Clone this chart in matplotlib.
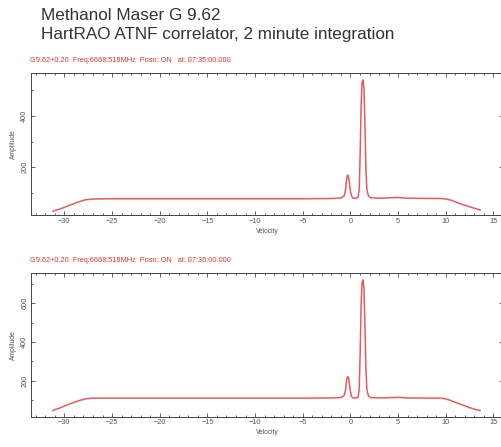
import matplotlib
matplotlib.use("Agg")
import matplotlib.pyplot as plt
from matplotlib.ticker import MultipleLocator

plt.rcParams['font.family'] = ['Liberation Sans', 'DejaVu Sans']

title_lines = ["Methanol Maser G 9.62", "HartRAO ATNF correlator, 2 minute integration"]
headers = ["G9.62+0.20  Freq:6668.518MHz  Posn: ON   at: 07:35:00.000",
           "G9.62+0.20  Freq:6668.518MHz  Posn: ON   at: 07:36:00.000"]
x_label = "Velocity"
y_label = "Amplitude"

# spectrum 1 (velocity km/s, amplitude)
vel_top = [-31.2, -30.5, -29.5, -28.5, -27.8, -27.0, -25.0, -20.0, -15.0, -10.0, -5.0,
           -2.0, -1.0, -0.8, -0.65, -0.5, -0.4, -0.3, -0.22, -0.1, 0.0, 0.1, 0.25,
           0.5, 0.8, 0.92, 1.02, 1.12, 1.22, 1.32, 1.42, 1.52, 1.62, 1.72, 1.88, 2.1, 3.0,
           5.0, 6.0, 9.5, 10.0, 10.5, 11.0, 11.5, 12.0, 12.5, 13.0, 13.6]
amp_top = [30, 38, 52, 66, 74, 77, 78, 78, 78, 78, 78,
           79, 81, 86, 90, 115, 155, 170, 167, 140, 108, 90, 81,
           79, 83, 115, 250, 440, 530, 539, 505, 370, 200, 115, 90, 82, 80,
           83, 80, 79, 77, 73, 66, 59, 53, 47, 41, 34]

# spectrum 2
vel_bot = [-31.2, -30.5, -29.5, -28.5, -27.8, -27.0, -25.0, -20.0, -15.0, -10.0, -5.0,
           -2.0, -1.0, -0.8, -0.65, -0.5, -0.4, -0.3, -0.22, -0.1, 0.0, 0.1, 0.25,
           0.5, 0.8, 0.92, 1.02, 1.12, 1.22, 1.32, 1.42, 1.52, 1.62, 1.72, 1.88, 2.1, 3.0,
           5.0, 6.0, 9.5, 10.0, 10.5, 11.0, 11.5, 12.0, 12.5, 13.0, 13.6]
amp_bot = [45, 58, 78, 96, 105, 109, 109, 109, 109, 109, 109,
           110, 112, 118, 124, 155, 200, 221, 217, 185, 145, 120, 111,
           109, 113, 155, 340, 590, 708, 721, 675, 490, 270, 155, 122, 112, 110,
           113, 110, 109, 105, 97, 88, 78, 69, 60, 52, 45]

xlims = (-33.5, 16.0)
ylims_top = (15, 567)
ylims_bot = (13, 758)

fig = plt.figure(figsize=(5.01, 4.47), dpi=100)
fig.text(41/501, 1 - 16/447, title_lines[0], fontsize=12.3, color='#333333', va='center', ha='left')
fig.text(41/501, 1 - 34/447, title_lines[1], fontsize=12.3, color='#333333', va='center', ha='left')

line_color = '#e85a60'
tick_color = '#555555'

def make_axes(rect, vel, amp, ylim, header):
    ax = fig.add_axes(rect)
    ax.plot(vel, amp, color=line_color, lw=1.1)
    ax.set_xlim(*xlims)
    ax.set_ylim(*ylim)
    ax.xaxis.set_major_locator(MultipleLocator(5))
    ax.xaxis.set_minor_locator(MultipleLocator(1))
    ax.yaxis.set_major_locator(MultipleLocator(200))
    ax.yaxis.set_minor_locator(MultipleLocator(100))
    ax.tick_params(which='both', direction='in', top=True, right=True, colors='#444444',
                   labelcolor=tick_color, labelsize=5.3, width=0.6)
    ax.tick_params(which='major', length=3)
    ax.tick_params(which='minor', length=1.6)
    ax.tick_params(axis='y', labelrotation=90, pad=2)
    for lab in ax.get_yticklabels():
        lab.set_va('center')
    ax.tick_params(axis='x', pad=2)
    for s in ax.spines.values():
        s.set_color('#444444')
        s.set_linewidth(0.7)
    ax.set_xlabel(x_label, fontsize=4.8, color=tick_color, labelpad=2)
    ax.set_ylabel(y_label, fontsize=4.8, color=tick_color, labelpad=3)
    ax.text(-0.002, 1.06, header, transform=ax.transAxes, fontsize=5.3, color='#e03838',
            ha='left', va='bottom')
    return ax

make_axes([31/501, 1 - 215/447, 472/501, 142.3/447], vel_top, amp_top, ylims_top, headers[0])
make_axes([31/501, 1 - 416.7/447, 472/501, 144/447], vel_bot, amp_bot, ylims_bot, headers[1])

fig.savefig("out.png", dpi=100)
